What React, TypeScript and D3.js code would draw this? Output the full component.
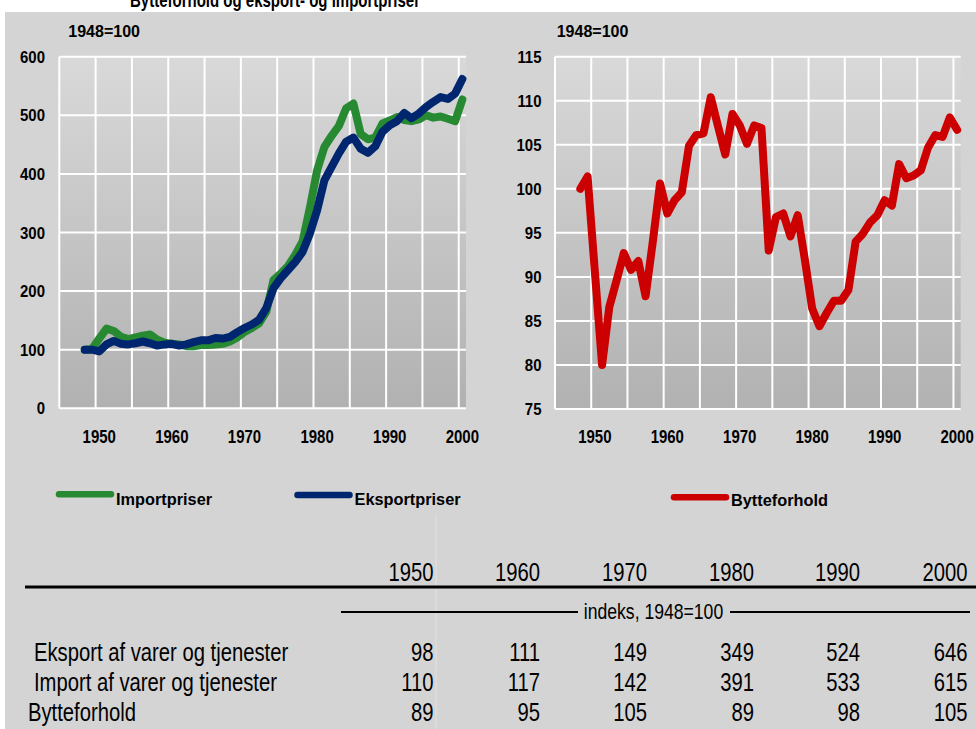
import React from "react";
import * as d3 from "d3";

const years = [
  1948, 1949, 1950, 1951, 1952, 1953, 1954, 1955, 1956, 1957,
  1958, 1959, 1960, 1961, 1962, 1963, 1964, 1965, 1966, 1967,
  1968, 1969, 1970, 1971, 1972, 1973, 1974, 1975, 1976, 1977,
  1978, 1979, 1980, 1981, 1982, 1983, 1984, 1985, 1986, 1987,
  1988, 1989, 1990, 1991, 1992, 1993, 1994, 1995, 1996, 1997,
  1998, 1999, 2000,
];

const importpriser = [
  100, 101, 119, 136, 132, 122, 118, 121, 124, 126,
  117, 112, 110, 109, 106, 106, 108, 108, 109, 110,
  114, 121, 130, 137, 145, 165, 219, 230, 243, 262,
  285, 342, 406, 446, 465, 482, 512, 520, 468, 459,
  462, 486, 491, 497, 492, 490, 493, 500, 496, 498,
  494, 490, 527,
];

const eksportpriser = [
  100, 100, 97, 109, 115, 110, 109, 111, 114, 111,
  107, 109, 110, 107, 109, 113, 116, 116, 120, 119,
  122, 130, 137, 143, 151, 171, 205, 222, 236, 250,
  267, 298, 338, 389, 412, 435, 455, 462, 443, 436,
  447, 472, 483, 490, 504, 495, 503, 514, 523, 531,
  528, 537, 562,
];

const bytteforhold = [
  100.0, 101.4, 90.6, 80.0, 86.6, 89.6, 92.7, 90.8, 91.8, 87.8,
  94.0, 100.6, 97.2, 98.7, 99.6, 104.9, 106.1, 106.3, 110.4, 107.1,
  103.9, 108.5, 107.2, 105.1, 107.2, 106.9, 93.0, 96.8, 97.2, 94.6,
  97.0, 91.9, 86.4, 84.4, 85.9, 87.3, 87.3, 88.5, 94.0, 94.9,
  96.2, 97.0, 98.7, 98.1, 102.8, 101.2, 101.5, 102.1, 104.7, 106.1,
  105.9, 108.1, 106.7,
];

const leftTicks = [0, 100, 200, 300, 400, 500, 600];
const rightTicks = [75, 80, 85, 90, 95, 100, 105, 110, 115];
const yearLabels = [1950, 1960, 1970, 1980, 1990, 2000];
const gridYears = [1945, 1950, 1955, 1960, 1965, 1970, 1975, 1980, 1985, 1990, 1995, 2000];

const tableYears = ["1950", "1960", "1970", "1980", "1990", "2000"];
const tableRows = [
  { label: "Eksport af varer og tjenester", values: ["98", "111", "149", "349", "524", "646"] },
  { label: "Import af varer og tjenester", values: ["110", "117", "142", "391", "533", "615"] },
  { label: "Bytteforhold", values: ["89", "95", "105", "89", "98", "105"] },
];

const GREEN = "#278a33";
const BLUE = "#00266f";
const RED = "#cc0000";
const BG = "#d4d4d4";
const FONT = "'Liberation Sans', Arial, sans-serif";

function T({ x, y, size, weight = "normal", sx = 1, anchor = "start", children, fill = "#000" }: any) {
  return (
    <text
      transform={`translate(${x},${y}) scale(${sx},1)`}
      fontSize={size}
      fontWeight={weight}
      textAnchor={anchor}
      fontFamily={FONT}
      fill={fill}
    >
      {children}
    </text>
  );
}

function Panel({ x0, x1, yTop, yBot, domain, ticks, series, tickRight, id }: any) {
  const x = d3.scaleLinear().domain([1944.5, 2000.5]).range([x0, x1]);
  const y = d3.scaleLinear().domain(domain).range([yBot, yTop]);
  const line = d3
    .line<number>()
    .x((_, i) => x(years[i]))
    .y((v) => y(v));
  return (
    <g>
      <defs>
        <linearGradient id={id} x1="0" y1="0" x2="0" y2="1">
          <stop offset="0" stopColor="#d9d9d9" />
          <stop offset="1" stopColor="#b1b1b1" />
        </linearGradient>
      </defs>
      <rect x={x0} y={yTop} width={x1 - x0} height={yBot - yTop} fill={`url(#${id})`} />
      {gridYears.map((g) => (
        <line key={"v" + g} x1={x(g - 0.5)} x2={x(g - 0.5)} y1={yTop} y2={yBot} stroke="#fff" strokeWidth={2} />
      ))}
      {ticks.map((t: number) => (
        <line key={"h" + t} x1={x0} x2={x1} y1={y(t)} y2={y(t)} stroke="#fff" strokeWidth={2} />
      ))}
      {ticks.map((t: number) => (
        <T key={"t" + t} x={tickRight} y={y(t) + 6} size={17} weight="bold" sx={0.88} anchor="end">
          {t}
        </T>
      ))}
      {yearLabels.map((yr) => (
        <T key={"x" + yr} x={x(yr)} y={443} size={18.5} weight="bold" sx={0.81} anchor="middle">
          {yr}
        </T>
      ))}
      {series.map((s: any) => (
        <path
          key={s.color}
          d={line(s.values) || ""}
          fill="none"
          stroke={s.color}
          strokeWidth={8}
          strokeLinejoin="round"
          strokeLinecap="round"
        />
      ))}
    </g>
  );
}

function Legend({ x, y, color, label, ty }: any) {
  return (
    <g>
      <line x1={x + 3} x2={x + 55} y1={y} y2={y} stroke={color} strokeWidth={6.5} strokeLinecap="round" />
      <T x={x + 60} y={ty} size={17} weight="bold" sx={0.96}>
        {label}
      </T>
    </g>
  );
}

export default function App() {
  const colRight = [433.5, 540, 647, 754, 860, 967.5];
  const rowBase = [661, 691, 721];
  const rowX = [34, 34, 28];
  return (
    <svg width={976} height={729} style={{ position: "absolute", left: 0, top: 0 }}>
      <rect x={0} y={0} width={976} height={729} fill="#fff" />
      <text x={130} y={7} fontSize={20} fontWeight="bold" fontFamily={FONT} textLength={290} lengthAdjust="spacingAndGlyphs">
        Bytteforhold og eksport- og importpriser
      </text>
      <rect x={5} y={12} width={971} height={717} fill={BG} />

      <T x={68.3} y={36.5} size={16} weight="bold">1948=100</T>
      <T x={556.7} y={36.5} size={16} weight="bold">1948=100</T>

      <Panel
        id="gL"
        x0={59.3}
        x1={466}
        yTop={56.7}
        yBot={408.3}
        domain={[0, 600]}
        ticks={leftTicks}
        tickRight={45}
        series={[
          { values: importpriser, color: GREEN },
          { values: eksportpriser, color: BLUE },
        ]}
      />
      <Panel
        id="gR"
        x0={555}
        x1={960.7}
        yTop={56.7}
        yBot={409}
        domain={[75, 115]}
        ticks={rightTicks}
        tickRight={541.5}
        series={[{ values: bytteforhold, color: RED }]}
      />

      <Legend x={56} y={494.3} color={GREEN} label="Importpriser" ty={504.5} />
      <Legend x={294.5} y={495} color={BLUE} label="Eksportpriser" ty={504.5} />
      <Legend x={671} y={497.3} color={RED} label="Bytteforhold" ty={505.5} />

      <line x1={436} x2={436} y1={515} y2={729} stroke="#fff" strokeOpacity={0.35} strokeWidth={1} />

      {tableYears.map((yr, i) => (
        <T key={yr} x={colRight[i]} y={581} size={25} sx={0.81} anchor="end">
          {yr}
        </T>
      ))}
      <line x1={25} x2={976} y1={587} y2={587} stroke="#000" strokeWidth={3} />

      <line x1={341} x2={578} y1={612} y2={612} stroke="#000" strokeWidth={1.8} />
      <line x1={730} x2={970} y1={612} y2={612} stroke="#000" strokeWidth={1.8} />
      <T x={653.5} y={619} size={22} sx={0.8} anchor="middle">
        indeks, 1948=100
      </T>

      {tableRows.map((r, ri) => (
        <g key={r.label}>
          <T x={rowX[ri]} y={rowBase[ri]} size={25} sx={0.81}>
            {r.label}
          </T>
          {r.values.map((v, ci) => (
            <T key={ci} x={colRight[ci]} y={rowBase[ri]} size={25} sx={0.81} anchor="end">
              {v}
            </T>
          ))}
        </g>
      ))}
    </svg>
  );
}
